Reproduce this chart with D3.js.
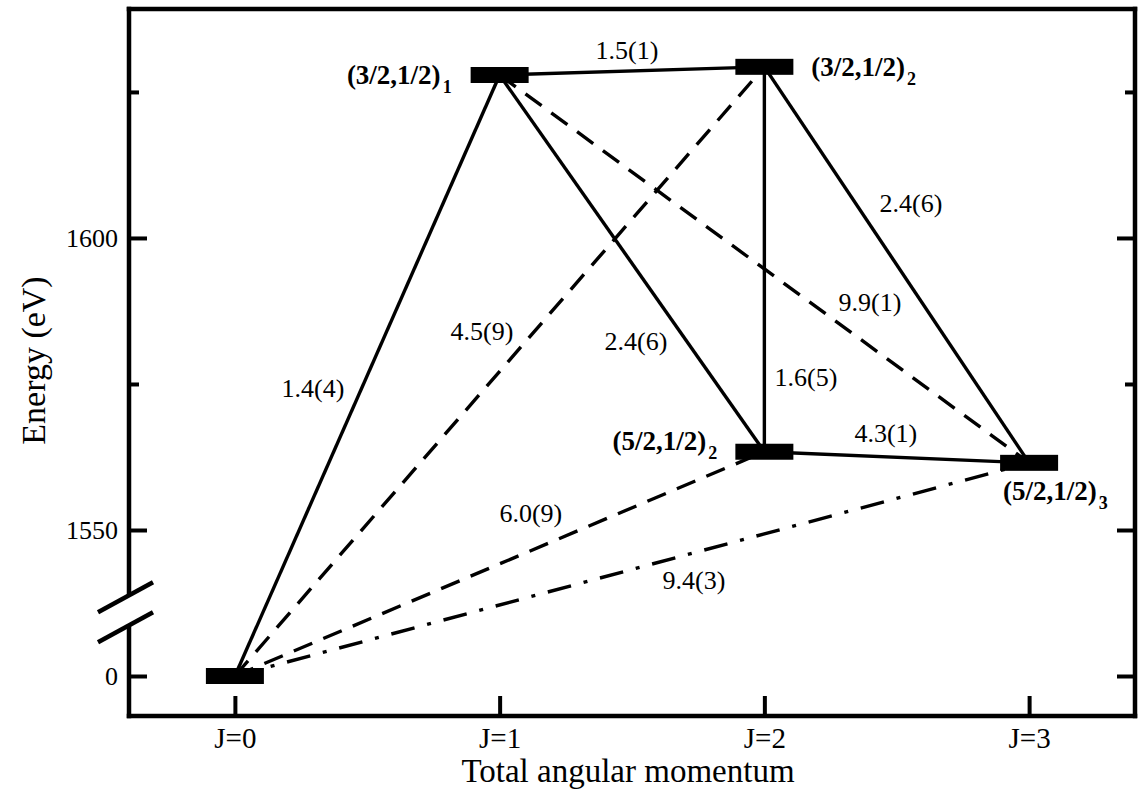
<!DOCTYPE html>
<html>
<head>
<meta charset="utf-8">
<script src="https://cdn.jsdelivr.net/npm/d3@7"></script>
<style>
  html, body { margin: 0; padding: 0; background: #fff; }
  svg { display: block; }
  text { font-family: "Liberation Serif", "DejaVu Serif", serif; fill: #000; }
</style>
</head>
<body>
<svg id="chart" width="1140" height="791"></svg>
<script>
// ---------- data ----------
const categories = ["J=0", "J=1", "J=2", "J=3"];
const jValues = [0, 1, 2, 3];

const levelJ = [0, 1, 2, 2, 3];
const levelEnergy = [0, 1627.9, 1629.3, 1563.4, 1561.5];
const levelNames = ["", "(3/2,1/2)", "(3/2,1/2)", "(5/2,1/2)", "(5/2,1/2)"];
const levelSubs = ["", "1", "2", "2", "3"];

const transFrom = [0, 0, 0, 0, 1, 1, 1, 2, 2, 3];
const transTo = [1, 2, 3, 4, 2, 3, 4, 3, 4, 4];
const transStyle = ["solid", "dashed", "dashed", "dashdot", "solid", "solid", "dashed", "solid", "solid", "solid"];
const transLabel = ["1.4(4)", "4.5(9)", "6.0(9)", "9.4(3)", "1.5(1)", "2.4(6)", "9.9(1)", "1.6(5)", "2.4(6)", "4.3(1)"];
// label anchor positions in data units (J, eV)
const transLabelJ = [0.295, 0.933, 1.118, 1.734, 1.481, 1.515, 2.399, 2.157, 2.554, 2.459];
const transLabelE = [1572.8, 1582.5, 1551.4, 923.6, 1630.7, 1580.8, 1587.5, 1574.7, 1604.5, 1565.1];

const majorTicks = [0, 1550, 1600];
const majorTickLabels = ["0", "1550", "1600"];
const minorTicks = [1575, 1625];

// ---------- layout ----------
const W = 1140, H = 791;
const mLeft = 129, mRight = 1135, mTop = 9, mBottom = 716;
const FONT = "Liberation Serif, DejaVu Serif, serif";

const svg = d3.select("#chart");
svg.append("rect").attr("width", W).attr("height", H).attr("fill", "#fff");

const x = d3.scaleLinear().domain([-0.4, 3.4]).range([mLeft, mRight]);
// broken axis: [-6.85,0] and [1550,1639.2] at true scale, [0,1550] compressed
const y = d3.scaleLinear().domain([-6.85, 0, 1550, 1639.2]).range([mBottom, 676, 530, mTop]);

const dashes = { solid: null, dashed: "20,12", dashdot: "24,13,4,13" };

// ---------- transitions ----------
const gLines = svg.append("g");
transFrom.forEach((f, i) => {
  const t = transTo[i];
  gLines.append("line")
    .attr("x1", x(levelJ[f])).attr("y1", y(levelEnergy[f]))
    .attr("x2", x(levelJ[t])).attr("y2", y(levelEnergy[t]))
    .attr("stroke", "#000").attr("stroke-width", 3.4)
    .attr("stroke-dasharray", dashes[transStyle[i]]);
});

// ---------- levels ----------
const barW = 58, barH = 16;
svg.append("g").selectAll("rect").data(levelJ).join("rect")
  .attr("x", (d) => x(d) - barW / 2)
  .attr("y", (d, i) => y(levelEnergy[i]) - barH / 2)
  .attr("width", barW).attr("height", barH)
  .attr("fill", "#000");

// ---------- transition labels ----------
svg.append("g").selectAll("text").data(transLabel).join("text")
  .attr("x", (d, i) => x(transLabelJ[i]))
  .attr("y", (d, i) => y(transLabelE[i]))
  .attr("text-anchor", "middle")
  .attr("font-family", FONT)
  .attr("font-size", 26)
  .text((d) => d);

// ---------- level labels ----------
const levelLabelSide = ["", "left", "right", "left", "below"];
const levelLabelDx = [0, -19, 18, -18, -26];
const levelLabelDy = [0, 9, 9, -2, 37];
levelNames.forEach((name, i) => {
  if (!name) return;
  const cx = x(levelJ[i]), cy = y(levelEnergy[i]);
  let ax, anchor;
  if (levelLabelSide[i] === "left") { ax = cx - barW / 2 + levelLabelDx[i]; anchor = "end"; }
  else if (levelLabelSide[i] === "right") { ax = cx + barW / 2 + levelLabelDx[i]; anchor = "start"; }
  else { ax = cx + levelLabelDx[i]; anchor = "start"; }
  const t = svg.append("text")
    .attr("x", ax).attr("y", cy + levelLabelDy[i])
    .attr("text-anchor", anchor)
    .attr("font-family", FONT)
    .attr("font-size", 27).attr("font-weight", "bold");
  t.append("tspan").text(name);
  t.append("tspan").attr("font-size", 18).attr("dx", 2).attr("dy", 9).text(levelSubs[i]);
});

// ---------- axes ----------
const tickStyle = (g) => {
  g.attr("font-family", FONT);
  g.select(".domain").remove();
  g.selectAll(".tick line").attr("stroke", "#000").attr("stroke-width", 4);
  g.selectAll(".tick text").attr("fill", "#000").attr("font-family", FONT);
};

svg.append("g").attr("transform", `translate(${mLeft},0)`)
  .call(d3.axisLeft(y).tickValues(majorTicks).tickSize(-18).tickPadding(11)
    .tickFormat((d, i) => majorTickLabels[i]))
  .call(tickStyle)
  .call((g) => g.selectAll(".tick text").attr("font-size", 26));
svg.append("g").attr("transform", `translate(${mLeft},0)`)
  .call(d3.axisLeft(y).tickValues(minorTicks).tickSize(-10).tickFormat(() => ""))
  .call(tickStyle);
svg.append("g").attr("transform", `translate(${mRight},0)`)
  .call(d3.axisRight(y).tickValues(majorTicks).tickSize(-18).tickFormat(() => ""))
  .call(tickStyle);
svg.append("g").attr("transform", `translate(${mRight},0)`)
  .call(d3.axisRight(y).tickValues(minorTicks).tickSize(-10).tickFormat(() => ""))
  .call(tickStyle);
svg.append("g").attr("transform", `translate(0,${mBottom})`)
  .call(d3.axisBottom(x).tickValues(jValues).tickSize(-20).tickPadding(11)
    .tickFormat((d, i) => categories[i]))
  .call(tickStyle)
  .call((g) => g.selectAll(".tick text").attr("font-size", 29));

// ---------- frame with axis break ----------
const breakMid = y(0) + (y(1550) - y(0)) * 0.45;
const frame = svg.append("g").attr("stroke", "#000").attr("stroke-width", 4.5)
  .attr("stroke-linecap", "square").attr("fill", "none");
frame.append("line").attr("x1", mLeft).attr("y1", mTop).attr("x2", mRight).attr("y2", mTop);
frame.append("line").attr("x1", mRight).attr("y1", mTop).attr("x2", mRight).attr("y2", mBottom);
frame.append("line").attr("x1", mLeft).attr("y1", mBottom).attr("x2", mRight).attr("y2", mBottom);
frame.append("line").attr("x1", mLeft).attr("y1", mTop).attr("x2", mLeft).attr("y2", breakMid - 17);
frame.append("line").attr("x1", mLeft).attr("y1", breakMid + 18).attr("x2", mLeft).attr("y2", mBottom);
[-15, 15].forEach((off) => {
  svg.append("line")
    .attr("x1", mLeft - 31).attr("y1", breakMid + off + 17)
    .attr("x2", mLeft + 24).attr("y2", breakMid + off - 13)
    .attr("stroke", "#000").attr("stroke-width", 4.5);
});

// ---------- axis titles ----------
svg.append("text")
  .attr("x", (mLeft + mRight) / 2 - 4).attr("y", 782)
  .attr("text-anchor", "middle").attr("font-family", FONT).attr("font-size", 33)
  .text("Total angular momentum");
svg.append("text")
  .attr("transform", `translate(45,${(mTop + mBottom) / 2 - 2}) rotate(-90)`)
  .attr("text-anchor", "middle").attr("font-family", FONT).attr("font-size", 34)
  .text("Energy (eV)");
</script>
</body>
</html>
